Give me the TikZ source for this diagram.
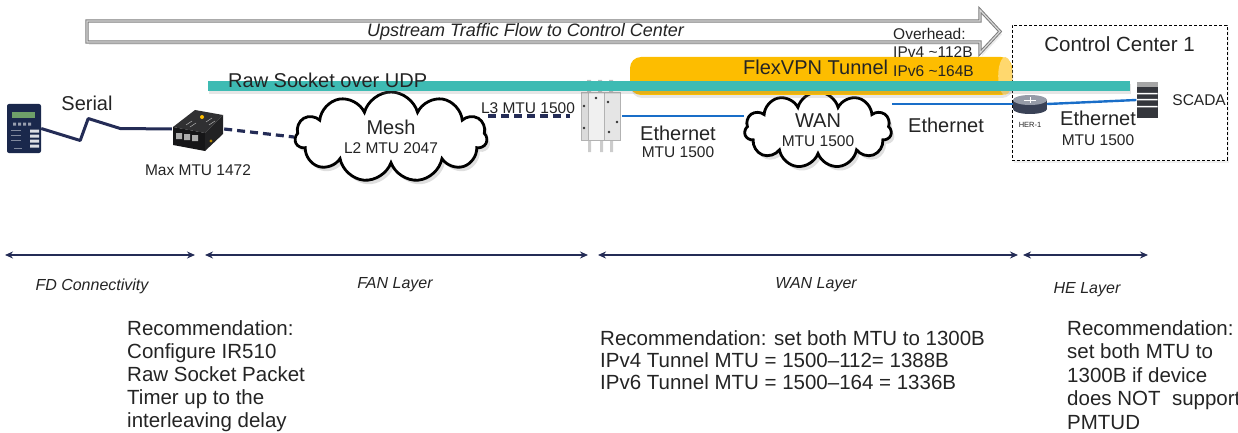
\documentclass[tikz,border=0pt]{standalone}
\usepackage{fontspec}
\setmainfont{Liberation Sans}
\usetikzlibrary{positioning,arrows.meta,shapes.symbols,shadows,calc}
\definecolor{flowgray}{RGB}{125,125,125}
\definecolor{rawteal}{RGB}{62,187,179}
\definecolor{tunnelgold}{RGB}{253,189,0}
\definecolor{tunnelcap}{RGB}{255,216,110}
\definecolor{linknavy}{RGB}{36,44,86}
\definecolor{ethblue}{RGB}{25,110,200}
\definecolor{inktext}{RGB}{36,36,36}
\definecolor{iedbody}{RGB}{26,40,76}
\definecolor{iedscreen}{RGB}{110,160,105}
\definecolor{irtop}{RGB}{48,48,50}
\definecolor{irfront}{RGB}{22,22,24}
\definecolor{irside}{RGB}{34,34,36}
\definecolor{herbody}{RGB}{58,66,86}
\definecolor{hertop}{RGB}{150,156,168}
\definecolor{scadabody}{RGB}{52,54,60}
\tikzset{
  txt/.style={inner sep=0pt,text=inktext,font=\fontsize{20}{22}\selectfont},
  smalltxt/.style={inner sep=0pt,text=inktext,font=\fontsize{15.5}{17}\selectfont},
  tinytxt/.style={inner sep=0pt,text=inktext,font=\fontsize{7.5}{9}\selectfont},
  layertxt/.style={inner sep=0pt,text=inktext,font=\itshape\fontsize{16}{18}\selectfont},
  recnote/.style={anchor=north west,inner sep=0pt,align=left,text=inktext,font=\fontsize{20.5}{23}\selectfont},
  upflow/.style={draw=flowgray,line width=1pt,double=gray!30,double distance=1.2pt,fill=white,
    drop shadow={opacity=0.15,shadow xshift=2pt,shadow yshift=-3pt}},
  netcloud/.style={cloud,cloud puffs=11,cloud ignores aspect,draw=black,line width=2.8pt,fill=white,
    align=center,inner sep=0pt,text=inktext,font=\fontsize{20}{19}\selectfont,
    drop shadow={opacity=0.25,shadow xshift=3pt,shadow yshift=-4pt}},
  ccbox/.style={draw=black,line width=0.8pt,dash pattern=on 3pt off 2pt,fill=white,
    minimum width=215pt,minimum height=135pt,inner sep=0pt,
    drop shadow={opacity=0.12,shadow xshift=2pt,shadow yshift=-3pt}},
  seriallink/.style={draw=linknavy,line width=3pt,line join=round},
  dashlink/.style={draw=linknavy,line width=3.2pt,dash pattern=on 8pt off 5pt},
  ethlink/.style={draw=ethblue,line width=2.4pt},
  layerspan/.style={{Stealth[length=8pt,width=7pt]}-{Stealth[length=8pt,width=7pt]},draw=linknavy,line width=1.4pt},
  barshadow/.style={drop shadow={opacity=0.2,shadow xshift=1pt,shadow yshift=-3pt}}
}

\begin{document}
\begin{tikzpicture}[x=1pt,y=-1pt]
  \useasboundingbox (0,0) rectangle (1238,433);

  % upstream direction arrow
  \draw[upflow] (87,21) -- (980,21) -- (980,10) -- (1000,31.5) -- (980,53) -- (980,42) -- (87,42) -- cycle;
  \node[inner sep=0pt,text=inktext,font=\itshape\fontsize{18}{20}\selectfont,anchor=base west] (upflowlbl) at (367,37) {Upstream Traffic Flow to Control Center};

  % head end site
  \node[ccbox] (cc) at (1119.5,92.5) {};
  \node[txt,font=\fontsize{20.5}{22}\selectfont,below=12pt of cc.north] (cctitle) {Control Center 1};

  % clouds
  \node[netcloud,minimum width=192pt,minimum height=90pt] (mesh) at (391,137)
    {Mesh\\{\fontsize{15.5}{17}\selectfont L2 MTU 2047}};
  \node[netcloud,minimum width=147pt,minimum height=76pt] (wan) at (818,130)
    {WAN\\{\fontsize{15.5}{17}\selectfont MTU 1500}};

  % field device (relay)
  \node[fill=iedbody,rounded corners=2pt,minimum width=34pt,minimum height=49pt,inner sep=0pt] (ied) at (24,128.5) {};
  \begin{scope}[shift={(ied.center)}]
    \fill[iedscreen] (-12,-16) rectangle (11,-10);
    \fill[white!55!iedbody] (-11,-6) rectangle (-8,-3) (-6,-6) rectangle (-3,-3) (-1,-6) rectangle (2,-3) (4,-6) rectangle (7,-3);
    \fill[white!85!iedbody] (6,1) rectangle (15,4) (6,6) rectangle (15,9) (6,11) rectangle (15,14) (6,16) rectangle (15,19);
    \draw[white!45!iedbody,line width=0.6pt] (-13,2) -- (-3,2) (-13,7) -- (-3,7) (-13,12) -- (-3,12) (-10,20) -- (-2,20);
  \end{scope}

  % IR510 gateway
  \node[inner sep=0pt,minimum width=52pt,minimum height=44pt] (ir510) at (198,129) {};
  \begin{scope}[shift={(ir510.center)}]
    \fill[irtop] (-25,-2) -- (-3,-19) -- (25,-14) -- (7,4) -- cycle;
    \fill[irfront] (-25,-2) -- (7,4) -- (7,22) -- (-25,16) -- cycle;
    \fill[irside] (7,4) -- (25,-14) -- (25,5) -- (7,22) -- cycle;
    \fill[gray!65] (-22,4) rectangle (-16,10) (-14,5) rectangle (-8,11) (-6,6) rectangle (0,12);
    \fill[tunnelgold] (4,-12) circle (2);
    \fill[tunnelgold!70!black] (13,12) circle (1.6);
    \draw[gray!60,line width=0.5pt] (-12,-4) -- (-6,-8) (-8,-2) -- (-2,-6) (8,-7) -- (14,-11) (11,-4) -- (17,-8);
  \end{scope}

  % access router
  \node[inner sep=0pt,minimum width=44pt,minimum height=72pt] (ap) at (600,116) {};
  \begin{scope}[shift={(ap.center)}]
    \fill[gray!50] (-13,-36) rectangle (-9,-24) (-2,-36) rectangle (2,-24) (9,-36) rectangle (13,-24);
    \fill[gray!40] (-12,24) rectangle (-9,36) (0,24) rectangle (3,36) (10,24) rectangle (13,36);
    \fill[gray!12] (-19,-24) rectangle (20,24);
    \fill[gray!28] (-19,-24) rectangle (-12,24);
    \fill[gray!20] (4,-24) rectangle (20,24);
    \draw[gray!60,line width=0.7pt] (-19,-24) rectangle (20,24) (-12,-24) -- (-12,24) (4,-24) -- (4,24);
    \fill[gray!40!black] (-16,-10) circle (1.3) (-16,12) circle (1.3) (8,-14) circle (1.3) (17,6) circle (1.3) (9,16) circle (1.3) (-4,-18) circle (1.3);
  \end{scope}

  % head end router
  \node[inner sep=0pt,minimum width=34pt,minimum height=20pt] (her) at (1030,104) {};
  \begin{scope}[shift={(her.center)}]
    \fill[herbody] (-17,-4) rectangle (17,5);
    \fill[herbody] (0,5) ellipse[x radius=17,y radius=5];
    \fill[hertop] (0,-4) ellipse[x radius=17,y radius=5];
    \draw[white,line width=0.6pt] (-6,-4) -- (6,-4) (0,-7) -- (0,-1);
  \end{scope}

  % SCADA server
  \node[fill=scadabody,inner sep=0pt,minimum width=21pt,minimum height=36pt] (scada) at (1147,100) {};
  \begin{scope}[shift={(scada.center)}]
    \fill[gray!70] (-10.5,-18) rectangle (10.5,-13);
    \fill[white] (-10.5,-7) rectangle (10.5,-5.5) (-10.5,-1) rectangle (10.5,0.5) (-10.5,6) rectangle (10.5,7.5);
  \end{scope}

  % links
  \draw[seriallink] (ied.east) -- ++(39,12) -- ++(8,-22) -- ++(32,10) -- (ir510.west);
  \draw[dashlink] (ir510.east) -- (mesh.west);
  \draw[dashlink,shorten >=8pt] (mesh.east |- ap.west) -- (ap.west);
  \draw[ethlink] (ap.east) -- (wan.west |- ap.east);
  \draw[ethlink] (wan.east |- her.west) -- (her.west);
  \draw[ethlink] (her.east) -- (scada.west);

  % tunnel and raw socket bars
  \node[fill=tunnelgold,rounded corners=11pt,minimum width=382pt,minimum height=38pt,inner sep=0pt,barshadow] (tunnel) at (821,76) {};
  \fill[tunnelcap] ($(tunnel.east)+(-7,0)$) ellipse[x radius=7,y radius=19];
  \node[fill=rawteal,inner sep=0pt,minimum width=922pt,minimum height=9.5pt,barshadow] (rawbar) at (669,86) {};

  % labels
  \node[txt,anchor=base west] (rawlbl) at (228,88) {Raw Socket over UDP};
  \node[txt,anchor=base west] (tunnellbl) at (743,75) {FlexVPN Tunnel};
  \node[smalltxt,anchor=north west,align=left,font=\fontsize{15.5}{18.5}\selectfont] (overhead) at (893,28) {Overhead:\\IPv4 \textasciitilde112B\\IPv6 \textasciitilde164B};
  \node[txt] (seriallbl) at (87,103) {Serial};
  \node[smalltxt,below=13pt of ir510] (irlbl) {Max MTU 1472};
  \node[smalltxt] (l3lbl) at (528,108) {L3 MTU 1500};
  \node[txt] (eth1) at (678,133) {Ethernet};
  \node[smalltxt,below=6pt of eth1] (eth1mtu) {MTU 1500};
  \node[txt] (eth2) at (946,125) {Ethernet};
  \node[txt] (eth3) at (1098,118) {Ethernet};
  \node[smalltxt,below=9pt of eth3] (eth3mtu) {MTU 1500};
  \node[tinytxt,below=8pt of her] (herlbl) {HER-1};
  \node[smalltxt,right=14.5pt of scada] (scadalbl) {SCADA};

  % layers
  \coordinate (fd-l) at (5,255);
  \coordinate (fd-r) at (195,255);
  \coordinate (fan-l) at (205,255);
  \coordinate (fan-r) at (588,255);
  \coordinate (wan-l) at (598,255);
  \coordinate (wan-r) at (1018,255);
  \coordinate (he-l) at (1023,255);
  \coordinate (he-r) at (1148,255);
  \draw[layerspan] (fd-l) -- (fd-r);
  \draw[layerspan] (fan-l) -- (fan-r);
  \draw[layerspan] (wan-l) -- (wan-r);
  \draw[layerspan] (he-l) -- (he-r);
  \node[layertxt] (fdlbl) at (92,286) {FD Connectivity};
  \node[layertxt] (fanlbl) at (395,285) {FAN Layer};
  \node[layertxt] (wanlbl) at (816,285) {WAN Layer};
  \node[layertxt] (helbl) at (1087,290) {HE Layer};

  % recommendations
  \node[recnote] (fdnote) at (127,320) {Recommendation:\\Configure IR510\\Raw Socket Packet\\Timer up to the\\interleaving delay};
  \node[recnote,font=\fontsize{20.5}{22}\selectfont] (wannote) at (600,330) {Recommendation: set both MTU to 1300B\\IPv4 Tunnel MTU = 1500--112= 1388B\\IPv6 Tunnel MTU = 1500--164 = 1336B};
  \node[recnote,font=\fontsize{20.5}{23.5}\selectfont] (henote) at (1067,320) {Recommendation:\\set both MTU to\\1300B if device\\does NOT\ \ support\\PMTUD};
\end{tikzpicture}
\end{document}
